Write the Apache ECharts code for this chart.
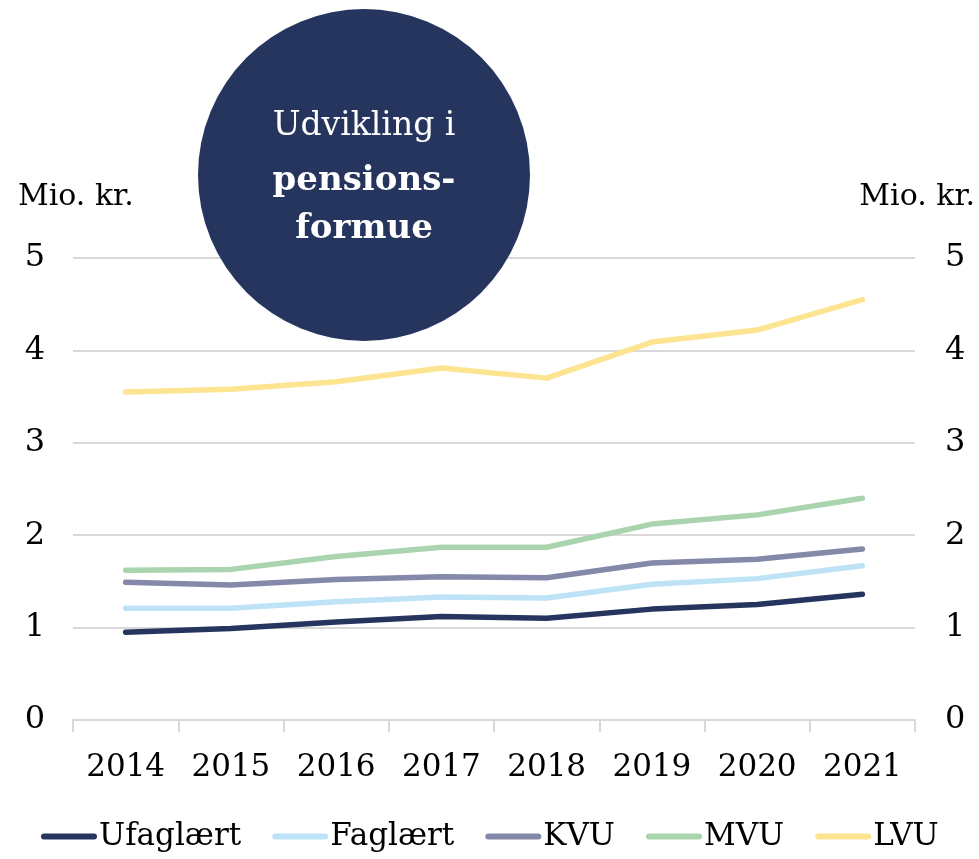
<!DOCTYPE html>
<html>
<head>
<meta charset="utf-8">
<script src="https://cdn.jsdelivr.net/npm/echarts@6/dist/echarts.min.js"></script>
<style>
  html, body { margin: 0; padding: 0; background: #fff; }
  #main { width: 979px; height: 859px; }
</style>
</head>
<body>
<div id="main"></div>
<script>
// årstal og pensionsformue (mio. kr.) pr. uddannelsesgruppe
var years = ['2014', '2015', '2016', '2017', '2018', '2019', '2020', '2021'];
var ufaglaert = [0.95, 0.99, 1.06, 1.12, 1.10, 1.20, 1.25, 1.36];
var faglaert  = [1.21, 1.21, 1.28, 1.33, 1.32, 1.47, 1.53, 1.67];
var kvu       = [1.49, 1.46, 1.52, 1.55, 1.54, 1.70, 1.74, 1.85];
var mvu       = [1.62, 1.63, 1.77, 1.87, 1.87, 2.12, 2.22, 2.40];
var lvu       = [3.55, 3.58, 3.66, 3.81, 3.70, 4.09, 4.22, 4.55];
var seriesNames = ['Ufaglært', 'Faglært', 'KVU', 'MVU', 'LVU'];
var colors = ['#26355e', '#bee3f7', '#8488a9', '#a9d4ae', '#fde491'];

var font = 'DejaVu Serif';
var chart = echarts.init(document.getElementById('main'));

function lineSeries(name, data, color) {
  return {
    name: name,
    type: 'line',
    data: data,
    symbol: 'none',
    lineStyle: { width: 5.5, color: color, cap: 'round', join: 'round' },
    itemStyle: { color: color },
    z: 3
  };
}

chart.setOption({
  animation: false,
  textStyle: { fontFamily: font },
  grid: { left: 73, right: 64, top: 258, bottom: 139 },
  legend: {
    bottom: 2,
    left: 36,
    itemWidth: 56,
    itemHeight: 6,
    itemGap: 31,
    icon: 'path://M3,0 h50 a3,3 0 0 1 0,6 h-50 a3,3 0 0 1 0,-6 z',
    textStyle: { fontFamily: font, fontSize: 31, color: '#000', padding: [0, 0, 0, -3] },
    data: seriesNames
  },
  xAxis: {
    type: 'category',
    data: years,
    boundaryGap: true,
    axisLine: { lineStyle: { color: '#d9d9d9', width: 2 } },
    axisTick: { show: true, length: 12, lineStyle: { color: '#d9d9d9', width: 2 } },
    axisLabel: { color: '#000', fontSize: 31, margin: 32, fontFamily: font }
  },
  yAxis: [
    {
      type: 'value', min: 0, max: 5, interval: 1, position: 'left',
      axisLine: { show: false }, axisTick: { show: false },
      splitLine: { lineStyle: { color: '#d9d9d9', width: 2 } },
      axisLabel: { color: '#000', fontSize: 32, margin: 28, fontFamily: font, padding: [16, 0, 0, 0] }
    },
    {
      type: 'value', min: 0, max: 5, interval: 1, position: 'right',
      axisLine: { show: false }, axisTick: { show: false },
      splitLine: { show: false },
      axisLabel: { color: '#000', fontSize: 32, margin: 30, fontFamily: font, padding: [16, 0, 0, 0] }
    }
  ],
  graphic: [
    { type: 'circle', shape: { cx: 364, cy: 175, r: 166 }, style: { fill: '#26355e' }, z: 100 },
    { type: 'text', x: 364, y: 126, z: 101,
      style: { text: 'Udvikling i', fill: '#fff', font: '33px "DejaVu Serif"', align: 'center', verticalAlign: 'middle' } },
    { type: 'text', x: 364, y: 181, z: 101,
      style: { text: 'pensions-', fill: '#fff', font: 'bold 34px "DejaVu Serif"', align: 'center', verticalAlign: 'middle' } },
    { type: 'text', x: 364, y: 229, z: 101,
      style: { text: 'formue', fill: '#fff', font: 'bold 34px "DejaVu Serif"', align: 'center', verticalAlign: 'middle' } },
    { type: 'text', x: 18, y: 197,
      style: { text: 'Mio. kr.', fill: '#000', font: '30px "DejaVu Serif"', align: 'left', verticalAlign: 'middle' } },
    { type: 'text', x: 975, y: 197,
      style: { text: 'Mio. kr.', fill: '#000', font: '30px "DejaVu Serif"', align: 'right', verticalAlign: 'middle' } }
  ],
  series: [
    lineSeries(seriesNames[0], ufaglaert, colors[0]),
    lineSeries(seriesNames[1], faglaert, colors[1]),
    lineSeries(seriesNames[2], kvu, colors[2]),
    lineSeries(seriesNames[3], mvu, colors[3]),
    lineSeries(seriesNames[4], lvu, colors[4])
  ]
});
</script>
</body>
</html>
